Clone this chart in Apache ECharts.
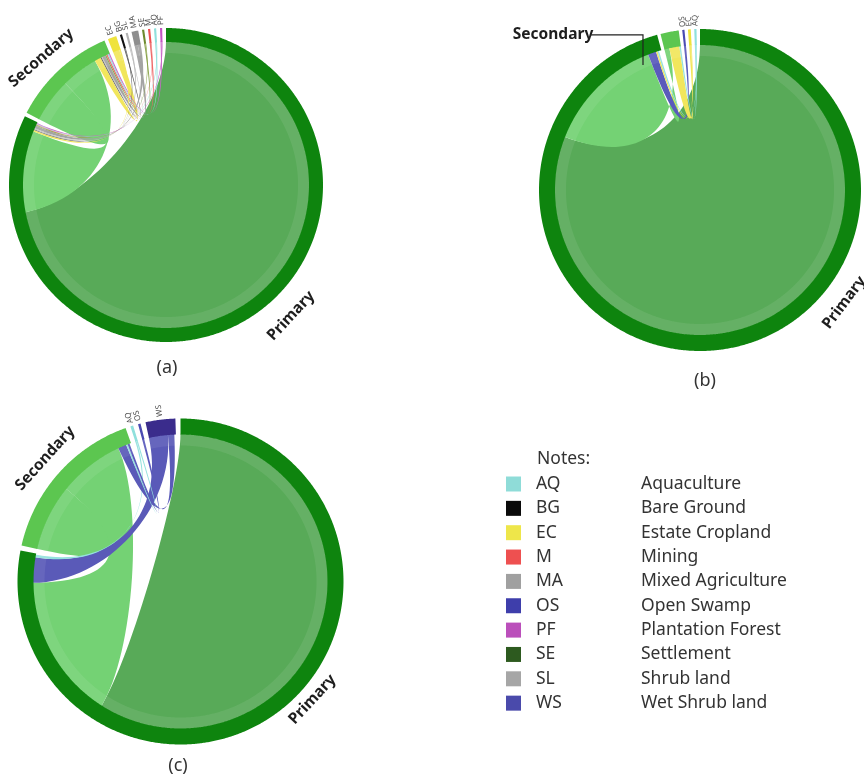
<!DOCTYPE html>
<html><head><meta charset="utf-8">
<script src="https://cdn.jsdelivr.net/npm/echarts@6/dist/echarts.min.js"></script>
<style>html,body{margin:0;padding:0;background:#fff}#c{width:864px;height:780px}</style>
</head><body><div id="c"></div>
<script>
// ---------------- DATA (angular shares of the circle) ----------------
// Panel (a)
const nodesA = ['Primary','Secondary','EC','BG','SL','MA','SE','M','AQ','PF'];
const sizesA = [296, 39.5, 3.2, 0.8, 0.8, 2.5, 0.8, 0.8, 0.8, 0.8];
// [from, to, width at source end, width at target end]
const flowsA = [
  ['Primary','Primary',129.5,129.5],
  ['Secondary','Secondary',8.9,8.9],
  ['Primary','Secondary',33,15],
  ['Secondary','EC',2.6,2.6],
  ['Secondary','BG',0.4,0.4],
  ['Secondary','SL',0.3,0.3],
  ['Secondary','MA',1.3,1.3],
  ['Secondary','SE',0.5,0.5],
  ['Secondary','M',0.6,0.6],
  ['Secondary','AQ',0.5,0.5],
  ['Secondary','PF',0.5,0.5],
  ['Primary','EC',0.6,0.6],
  ['Primary','BG',0.3,0.3],
  ['Primary','SL',0.5,0.5],
  ['Primary','MA',1.2,1.2],
  ['Primary','SE',0.3,0.3],
  ['Primary','M',0.2,0.2],
  ['Primary','AQ',0.3,0.3],
  ['Primary','PF',0.3,0.3]
];
// Panel (b)
const nodesB = ['Primary','Secondary','OS','EC','AQ'];
const sizesB = [344.5, 6.6, 0.8, 1.0, 0.8];
const flowsB = [
  ['Primary','Primary',145.7,145.7],
  ['Primary','Secondary',47.6,2],
  ['Primary','OS',3.3,0.8],
  ['Secondary','EC',4,0.7],
  ['Secondary','AQ',0.6,0.5],
  ['Primary','EC',0.6,0.3],
  ['Primary','AQ',0.6,0.3]
];
// Panel (c)
const nodesC = ['Primary','Secondary','AQ','OS','WS'];
const sizesC = [281, 57.5, 1, 0.9, 10.6];
const flowsC = [
  ['Primary','Primary',106.2,106.2],
  ['Secondary','Secondary',13.1,13.1],
  ['Primary','Secondary',57.1,26],
  ['Primary','WS',10,7.5],
  ['Primary','AQ',1,0.5],
  ['Secondary','WS',3.3,2.5],
  ['Secondary','AQ',0.6,0.5],
  ['Secondary','OS',0.8,0.8]
];
// Notes table
const legendCodes = ['AQ','BG','EC','M','MA','OS','PF','SE','SL','WS'];
const legendNames = ['Aquaculture','Bare Ground','Estate Cropland','Mining','Mixed Agriculture','Open Swamp','Plantation Forest','Settlement','Shrub land','Wet Shrub land'];
const panelTitles = ['(a)','(b)','(c)'];

// ---------------- STYLE ----------------
const nodeColor = {Primary:'#0e840e', Secondary:'#5cc650', AQ:'#8fe0dc', BG:'#111111', EC:'#efe33c', M:'#ee5050',
  MA:'#8e8e8e', OS:'#4a4ab2', PF:'#c255c2', SE:'#6d8a2e', SL:'#b4b4b4', WS:'#3a2c8c'};
const ribbonColor = {Primary:'#58aa58', Secondary:'#74d274', AQ:'#95e2de', BG:'#5a5a5a', EC:'#f1e65c', M:'#ee6a6a',
  MA:'#a4a4a4', OS:'#5a5abb', PF:'#c868c8', SE:'#8aa34a', SL:'#bdbdbd', WS:'#5a5ab8'};
const legendColor = ['#8fdcd8','#0a0a0a','#eee64a','#ee5050','#a0a0a0','#3e3eab','#bb4fbb','#2d5a1f','#a6a6a6','#4a4aab'];
const FONT = '"Noto Sans", "Open Sans", sans-serif';
// bezier control radius grows with the angular separation of the two ends
const ctrlK = sepDeg => 0.28 + 0.2 * Math.min(sepDeg, 180) / 100;

const panels = [
  {center:[166,185], R:157, ring:14, gap:1.4, nodes:nodesA, sizes:sizesA, flows:flowsA,
   labels:[{text:'Primary', deg:-46.3, dist:181, rot:47},{text:'Secondary', deg:134.5, dist:178, rot:41}],
   title:[167,368]},
  {center:[700,190], R:161, ring:16, gap:1.25, nodes:nodesB, sizes:sizesB, flows:flowsB,
   labels:[{text:'Primary', deg:-38, dist:183, rot:53},
           {text:'Secondary', deg:133.48, dist:213.6, rot:0, leader:[[125.36,190.1],[110.19,165.2],[114.51,137.4]]}],
   title:[705,381]},
  {center:[180.5,581.5], R:163, ring:16, gap:1.8, nodes:nodesC, sizes:sizesC, flows:flowsC,
   labels:[{text:'Primary', deg:-41.8, dist:177, rot:47},{text:'Secondary', deg:137.7, dist:183, rot:48}],
   title:[178,766]}
];

const polar = [], angleAxis = [], radiusAxis = [], series = [];
panels.forEach((p, pi) => {
  const rIn = (p.R - p.ring) / p.R;
  const start = {}, cur = {};
  let acc = 0;
  p.nodes.forEach((n, i) => { start[n] = acc; cur[n] = acc; acc += p.sizes[i] + p.gap; });
  const T = acc;
  const toV = deg => ((((90 - deg) % 360) + 360) % 360) / 360 * T;
  const sep = (a, b) => { let d = Math.abs(a - b) / T * 360; return Math.min(d, 360 - d); };

  polar.push({center: p.center, radius: p.R});
  angleAxis.push({polarIndex: pi, type:'value', min:0, max:T, startAngle:90, clockwise:true, show:false});
  radiusAxis.push({polarIndex: pi, type:'value', min:0, max:1, show:false});

  const nodeData = p.nodes.map((n, i) => ({name:n, value:[start[n], start[n] + p.sizes[i]], itemStyle:{color:nodeColor[n]}}));
  const ribbonData = p.flows.map(([s, t, sw, tw]) => {
    const s0 = cur[s]; cur[s] += sw; const s1 = cur[s];
    const t0 = cur[t]; cur[t] += tw; const t1 = cur[t];
    const col = (s === t && s === 'Primary') ? ribbonColor.Primary : ribbonColor[t];
    return {name: s + '-' + t, value:[s0, s1, t0, t1], itemStyle:{color: col}};
  });
  const rR = rIn + 0.004;

  series.push({
    type:'custom', coordinateSystem:'polar', polarIndex:pi, silent:true, clip:false, animation:false,
    data: ribbonData,
    renderItem: (params, api) => {
      const s0 = api.value(0), s1 = api.value(1), t0 = api.value(2), t1 = api.value(3);
      const pt = (r, v) => api.coord([r, v]);
      const f = q => q[0].toFixed(2) + ' ' + q[1].toFixed(2);
      let d = '';
      const arc = (a, b, first) => {
        const n = Math.max(2, Math.ceil(Math.abs(b - a) / 0.4));
        for (let i = 0; i <= n; i++) { d += (first && i === 0 ? 'M' : 'L') + f(pt(rR, a + (b - a) * i / n)) + ' '; }
      };
      const bez = (a, b) => { const k = ctrlK(sep(a, b)); d += 'C' + f(pt(k, a)) + ' ' + f(pt(k, b)) + ' ' + f(pt(rR, b)) + ' '; };
      arc(s0, s1, true); bez(s1, t0); arc(t0, t1, false); bez(t1, s0); d += 'Z';
      return {type:'path', shape:{pathData:d}, style:{fill: api.visual('color')}};
    }
  });

  series.push({
    type:'custom', coordinateSystem:'polar', polarIndex:pi, silent:true, clip:false, animation:false,
    data: nodeData,
    renderItem: (params, api) => {
      const a0 = api.value(0), a1 = api.value(1);
      const n = Math.max(2, Math.ceil((a1 - a0) / 0.4));
      const ring = [], band = [];
      const bIn = rIn - 11 / p.R;
      for (let i = 0; i <= n; i++) { const v = a0 + (a1 - a0) * i / n; ring.push(api.coord([1, v])); band.push(api.coord([rIn, v])); }
      for (let i = n; i >= 0; i--) { const v = a0 + (a1 - a0) * i / n; ring.push(api.coord([rIn, v])); band.push(api.coord([bIn, v])); }
      const children = [
        {type:'polygon', shape:{points:band}, style:{fill:'rgba(255,255,255,0.08)'}},
        {type:'polygon', shape:{points:ring}, style:{fill: api.visual('color')}}
      ];
      const name = p.nodes[params.dataIndex];
      if (name !== 'Primary' && name !== 'Secondary') {
        const c = api.coord([0, 0]);
        const q = api.coord([(p.R + 3) / p.R, (a0 + a1) / 2]);
        const th = Math.atan2(c[1] - q[1], q[0] - c[0]);
        children.push({type:'text', x:q[0], y:q[1], rotation:th,
          style:{text:name, fill:'#505050', font:'8px ' + FONT, align:'left', verticalAlign:'middle'}});
      }
      return {type:'group', children};
    }
  });

  series.push({
    type:'custom', coordinateSystem:'polar', polarIndex:pi, silent:true, clip:false, animation:false,
    data: p.labels.map(l => ({name:l.text, value:[l.dist / p.R, toV(l.deg)]})),
    renderItem: (params, api) => {
      const L = p.labels[params.dataIndex];
      const q = api.coord([api.value(0), api.value(1)]);
      const children = [{type:'text', x:q[0], y:q[1], rotation:L.rot * Math.PI / 180,
        style:{text:L.text, fill:'#1e1e1e', font:'bold 15.5px ' + FONT, align:'center', verticalAlign:'middle'}}];
      if (L.leader) {
        const pts = L.leader.map(([deg, dist]) => api.coord([dist / p.R, toV(deg)]));
        children.push({type:'polyline', shape:{points:pts}, style:{stroke:'#222', lineWidth:1.2, fill:'none'}});
      }
      return {type:'group', children};
    }
  });
});

const graphic = [];
panels.forEach((p, i) => {
  graphic.push({type:'text', x:p.title[0], y:p.title[1],
    style:{text:panelTitles[i], fill:'#333', font:'18px ' + FONT, align:'center', verticalAlign:'middle'}});
});
graphic.push({type:'text', x:537, y:459, style:{text:'Notes:', fill:'#333', font:'17.5px ' + FONT, verticalAlign:'middle'}});
legendCodes.forEach((code, i) => {
  const y = 484 + i * 24.35;
  graphic.push({type:'rect', shape:{x:506, y:y - 7.5, width:15, height:15}, style:{fill:legendColor[i]}});
  graphic.push({type:'text', x:536, y:y, style:{text:code, fill:'#333', font:'17.5px ' + FONT, verticalAlign:'middle'}});
  graphic.push({type:'text', x:641, y:y, style:{text:legendNames[i], fill:'#333', font:'17.5px ' + FONT, verticalAlign:'middle'}});
});

const chart = echarts.init(document.getElementById('c'), null, {renderer:'canvas', width:864, height:780});
chart.setOption({animation:false, backgroundColor:'#fff', polar, angleAxis, radiusAxis, series, graphic});
</script></body></html>
